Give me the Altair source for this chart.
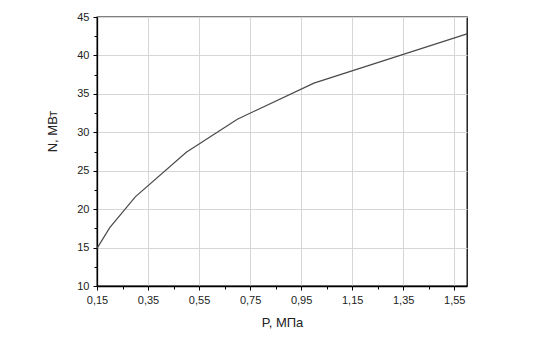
import altair as alt
import pandas as pd

# Data
P = [0.15, 0.20, 0.30, 0.50, 0.70, 1.00, 1.60]
N = [14.9, 17.6, 21.6, 27.4, 31.7, 36.4, 42.8]

x_major = [0.15, 0.35, 0.55, 0.75, 0.95, 1.15, 1.35, 1.55]
x_minor = [0.25, 0.45, 0.65, 0.85, 1.05, 1.25, 1.45]
y_major = [10, 15, 20, 25, 30, 35, 40, 45]
y_minor = [12.5, 17.5, 22.5, 27.5, 32.5, 37.5, 42.5]

df = pd.DataFrame({"P": P, "N": N})

FONT = "Liberation Sans"
xs = alt.Scale(domain=[0.15, 1.6], nice=False, zero=False)
ys = alt.Scale(domain=[10, 45], nice=False, zero=False)

main = alt.Chart(df).mark_line(color="#4a4a4a", strokeWidth=1.2).encode(
    x=alt.X("P:Q", scale=xs, axis=alt.Axis(
        orient="bottom",
        values=x_major, title="P, МПа", grid=True, gridColor="#d6d6d6", gridWidth=1,
        tickSize=4, tickColor="black", domainColor="black", domainWidth=1.3,
        labelExpr="replace(format(datum.value, '.2f'), '.', ',')",
        labelFlush=False,
        labelFont=FONT, labelFontSize=11, labelColor="#222", labelPadding=4,
        titleFont=FONT, titleFontSize=13, titleFontWeight="normal", titleColor="#222",
        titleY=36, titleBaseline="middle")),
    y=alt.Y("N:Q", scale=ys, axis=alt.Axis(
        orient="left",
        values=y_major, title="N, МВт", grid=True, gridColor="#d6d6d6", gridWidth=1,
        tickSize=4, tickColor="black", domainColor="black", domainWidth=1.3,
        labelFlush=False,
        labelFont=FONT, labelFontSize=11, labelColor="#222", labelPadding=4,
        titleFont=FONT, titleFontSize=13, titleFontWeight="normal", titleColor="#222",
        titleX=-45, titleY=114, titleBaseline="middle", titleAlign="center", titleAngle=-90)),
)

minor = alt.Chart(df).mark_point(opacity=0).encode(
    x=alt.X("P:Q", scale=xs, axis=alt.Axis(
        orient="bottom",
        values=x_minor, title=None, labels=False, grid=False, domain=False,
        tickSize=3, tickColor="black")),
    y=alt.Y("N:Q", scale=ys, axis=alt.Axis(
        orient="left",
        values=y_minor, title=None, labels=False, grid=False, domain=False,
        tickSize=3, tickColor="black")),
)

chart = alt.layer(main, minor).resolve_axis(
    x="independent", y="independent"
).properties(
    width=370, height=269,
    padding={"left": 97, "top": 17, "right": 74, "bottom": 53},
    autosize=alt.AutoSizeParams(type="none"),
    background="white",
).configure_view(stroke="black", strokeWidth=1.3)

chart.save("out.html", embed_options={"renderer": "svg", "actions": False})
